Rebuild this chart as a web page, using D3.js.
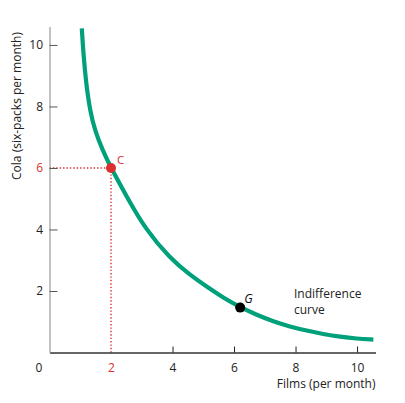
<!DOCTYPE html>
<html>
<head>
<meta charset="utf-8">
<script src="https://cdn.jsdelivr.net/npm/d3@7"></script>
<style>
  body { margin: 0; background: #fff; }
  text { font-family: "Open Sans", sans-serif; }
</style>
</head>
<body>
<div id="wrapper"></div>
<script>
// curve
const filmsValues = [1.05, 1.10, 1.19, 1.32, 1.48, 1.73, 2.0, 2.51, 3.11, 3.92, 4.57, 5.11, 5.65, 6.20, 6.74, 7.28, 7.82, 8.36, 8.90, 9.45, 9.99, 10.53];
const colaValues = [10.54, 9.74, 8.75, 7.85, 7.2, 6.57, 6.0, 5.07, 4.02, 3.06, 2.52, 2.14, 1.78, 1.47, 1.22, 1.01, 0.84, 0.71, 0.60, 0.51, 0.45, 0.42];
const xTicks = [2, 4, 6, 8, 10];
const yTicks = [2, 4, 6, 8, 10];
const pointC = { films: 2, cola: 6, label: "C" };
const pointG = { films: 6.2, cola: 1.46, label: "G" };

const green = "#00a07a";
const red = "#d8302f";

const dimensions = {
    width: 405,
    height: 403,
    margin: { top: 26.5, left: 49.5 }
};
dimensions.boundedWidth = 326;
dimensions.boundedHeight = 326;

const svg = d3.select("#wrapper")
    .append("svg")
        .attr("width", dimensions.width)
        .attr("height", dimensions.height);

const bounds = svg.append("g")
    .attr("transform", `translate(${dimensions.margin.left},${dimensions.margin.top})`);

const xScale = d3.scaleLinear()
    .domain([0, 10.6])
    .range([0, dimensions.boundedWidth]);
const yScale = d3.scaleLinear()
    .domain([0, 10.6])
    .range([dimensions.boundedHeight, 0]);

// dotted guides to point C
bounds.append("path")
    .attr("d", `M0,${yScale(pointC.cola)}H${xScale(pointC.films)}V${yScale(0)}`)
    .attr("fill", "none")
    .attr("stroke", red)
    .attr("stroke-width", 1.4)
    .attr("stroke-dasharray", "1.4 2");

// axes
const xAxis = bounds.append("g")
    .attr("transform", `translate(0,${dimensions.boundedHeight})`)
    .call(d3.axisBottom(xScale).tickValues(xTicks).tickSizeInner(-6).tickSizeOuter(0).tickPadding(11));
xAxis.select(".domain").attr("stroke", "#333").attr("stroke-width", 1.5);
xAxis.selectAll(".tick line").attr("stroke", "#222");
xAxis.selectAll(".tick text")
    .attr("font-size", 12)
    .attr("fill", d => d === pointC.films ? red : "#222");
xAxis.selectAll(".tick").filter(d => d === pointC.films).select("line").remove();

const yAxis = bounds.append("g")
    .call(d3.axisLeft(yScale).tickValues(yTicks).tickSizeInner(-8).tickSizeOuter(0).tickPadding(6.5));
yAxis.select(".domain").attr("stroke", "#999").attr("stroke-width", 1.2);
yAxis.selectAll(".tick line").attr("stroke", "#555");
yAxis.selectAll(".tick text")
    .attr("font-size", 12)
    .attr("fill", d => d === pointC.cola ? red : "#222");

bounds.append("text")
    .attr("x", -10.5)
    .attr("y", dimensions.boundedHeight + 19.5)
    .attr("text-anchor", "middle")
    .attr("font-size", 12)
    .attr("fill", "#222")
    .text("0");

// indifference curve (basis spline smooths out reading noise)
const line = d3.line()
    .x((d, i) => xScale(filmsValues[i]))
    .y((d, i) => yScale(colaValues[i]))
    .curve(d3.curveBasis);

bounds.append("path")
    .attr("d", line(filmsValues))
    .attr("fill", "none")
    .attr("stroke", green)
    .attr("stroke-width", 4.2);

// points
bounds.append("circle")
    .attr("cx", xScale(pointC.films))
    .attr("cy", yScale(pointC.cola))
    .attr("r", 5)
    .attr("fill", red);
bounds.append("text")
    .attr("x", xScale(pointC.films) + 6)
    .attr("y", yScale(pointC.cola) - 4)
    .attr("font-size", 11.5)
    .attr("fill", red)
    .text(pointC.label);

bounds.append("circle")
    .attr("cx", xScale(pointG.films))
    .attr("cy", yScale(pointG.cola))
    .attr("r", 5)
    .attr("fill", "#000");
bounds.append("text")
    .attr("x", xScale(pointG.films) + 4)
    .attr("y", yScale(pointG.cola) - 5)
    .attr("font-size", 12.5)
    .attr("font-style", "italic")
    .attr("fill", "#111")
    .text(pointG.label);

// labels
const curveLabel = bounds.append("text")
    .attr("font-size", 12)
    .attr("fill", "#222");
curveLabel.append("tspan").attr("x", 244.5).attr("y", 271.5).text("Indifference");
curveLabel.append("tspan").attr("x", 244.5).attr("y", 287.5).text("curve");

bounds.append("text")
    .attr("x", dimensions.boundedWidth)
    .attr("y", dimensions.boundedHeight + 35.5)
    .attr("text-anchor", "end")
    .attr("font-size", 12)
    .attr("fill", "#222")
    .text("Films (per month)");

bounds.append("text")
    .attr("transform", `translate(${17 - dimensions.margin.left + 4},${106 - dimensions.margin.top}) rotate(-90)`)
    .attr("text-anchor", "middle")
    .attr("font-size", 12)
    .attr("fill", "#222")
    .text("Cola (six-packs per month)");
</script>
</body>
</html>
